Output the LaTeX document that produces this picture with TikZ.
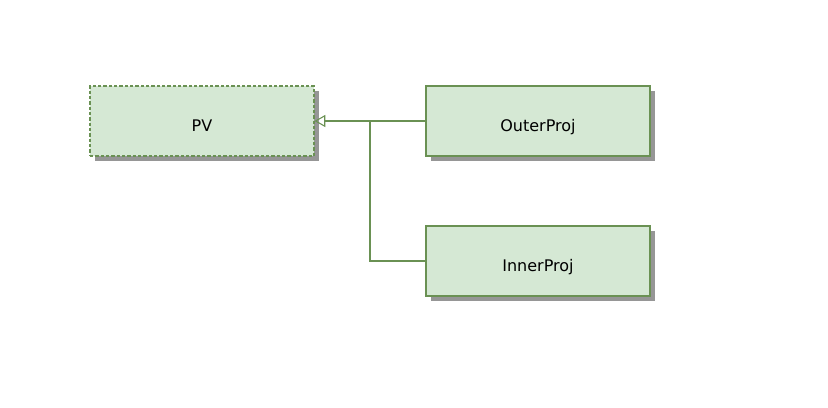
\documentclass[tikz,border=0pt]{standalone}
\usepackage{fontspec}
\setmainfont{DejaVu Sans}
\usetikzlibrary{arrows.meta,positioning,shadows}
\definecolor{boxfill}{HTML}{D5E8D4}
\definecolor{boxline}{HTML}{6A9153}
\tikzset{
  classbox/.style={draw=boxline, fill=boxfill, line width=0.9pt, minimum width=224*0.75pt, minimum height=70*0.75pt,
    text height=15pt, text depth=0pt,
    font=\fontsize{12pt}{14pt}\selectfont, drop shadow={shadow xshift=4pt, shadow yshift=-4pt, fill=black!75, opacity=0.55}},
  abstractbox/.style={classbox, dash pattern=on 2.5pt off 1.5pt},
  inherit/.style={draw=boxline, line width=0.8pt, -{Triangle[open, length=8pt, width=9pt]}}
}
\begin{document}
\begin{tikzpicture}[x=0.75pt,y=0.75pt,yscale=-1,xscale=1]
    \useasboundingbox (0,0) rectangle (828,407);

    % classes
    \node[abstractbox] (pv) at (202,121) {PV};
    \node[classbox] (outer) at (538,121) {OuterProj};
    \node[classbox] (inner) at (538,261) {InnerProj};

    % inheritance
    \coordinate (join) at (370,121);
    \draw[inherit] (outer.west) -- (pv.east);
    \draw[draw=boxline, line width=0.8pt] (inner.west) -| (join);
\end{tikzpicture}
\end{document}
